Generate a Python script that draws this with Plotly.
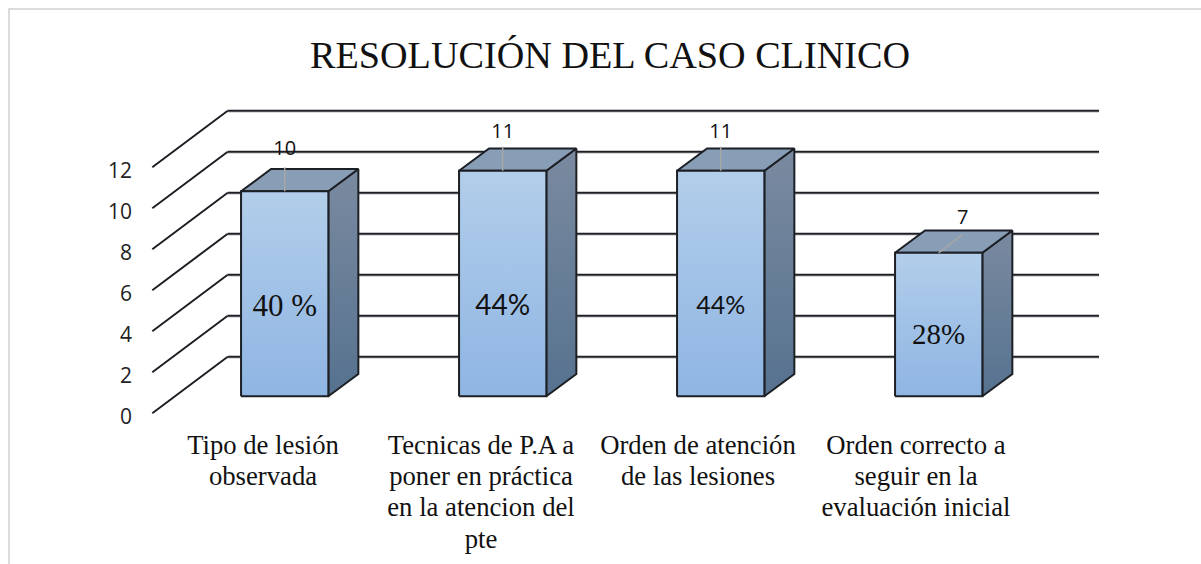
import plotly.graph_objects as go

# values
categories = ["Tipo de lesión observada",
              "Tecnicas de P.A a poner en práctica en la atencion del pte",
              "Orden de atención de las lesiones",
              "Orden correcto a seguir en la evaluación inicial"]
category_lines = [["Tipo de lesión", "observada"],
                  ["Tecnicas de P.A a", "poner en práctica", "en la atencion del", "pte"],
                  ["Orden de atención", "de las lesiones"],
                  ["Orden correcto a", "seguir en la", "evaluación inicial"]]
values = [10, 11, 11, 7]
percent_labels = ["40 %", "44%", "44%", "28%"]
y_ticks = [0, 2, 4, 6, 8, 10, 12]

# layout of the fake 3d box, px
W, H = 1201, 564
UNIT = 20.5           # px per value unit
BASE_PX = 396.3       # pixel row of value 0 on the bar fronts
X0_PX, STEP_PX = 284.7, 218
BAR_W = 87.3 / STEP_PX
DEPTH_X = 30 / STEP_PX
DEPTH_Y = 22.3 / UNIT
BACK_OFF = (BASE_PX - 356.7) / UNIT
TICK_PX = 417         # pixel row of the axis label 0
WALL_FRONT_X = (152.3 - X0_PX) / STEP_PX
WALL_BACK_X = (227.7 - X0_PX) / STEP_PX
GRID_END_X = (1099 - X0_PX) / STEP_PX
WALL_FRONT_Y2 = (TICK_PX - 413.3) / UNIT
WALL_BACK_Y2 = (TICK_PX - 356.7) / UNIT

label_dx = [0, 0, 0, 24 / STEP_PX]
label_dy = [2.0, 1.85, 1.85, 1.65]
leader_dy = [1.17, 1.17, 1.17, 0.9]
percent_y = [4.28, 4.33, 4.33, 2.9]
percent_fonts = ["Liberation Serif", "Lato", "Lato", "Liberation Serif"]
percent_sizes = [31, 28, 25, 29]
label_center_px = [263, 481, 698, 916]
line_px = [447, 478, 509, 541]

LINE = "#1c1f24"
SHADOW = "#c4c4c4"
SERIF = "Liberation Serif"

fig = go.Figure()


def poly(xs, ys, line_color=LINE, **kw):
    fig.add_trace(go.Scatter(x=xs, y=ys, mode="lines", fill="toself",
                             line=dict(color=line_color, width=2), hoverinfo="skip",
                             showlegend=False, **kw))


# back grid lines with the soft shadow under them
for v in y_ticks:
    fig.add_trace(go.Scatter(x=[WALL_BACK_X, GRID_END_X], y=[v + BACK_OFF - 0.07] * 2, mode="lines",
                             line=dict(color=SHADOW, width=1), hoverinfo="skip", showlegend=False))
    fig.add_trace(go.Scatter(x=[WALL_BACK_X, GRID_END_X], y=[v + BACK_OFF] * 2, mode="lines",
                             line=dict(color=LINE, width=2), hoverinfo="skip", showlegend=False))

# bars: front, side and top faces
for i, v in enumerate(values):
    left, right = i - BAR_W / 2, i + BAR_W / 2
    poly([right, right + DEPTH_X, right + DEPTH_X, right, right],
         [0, DEPTH_Y, v + DEPTH_Y, v, 0],
         fillgradient=dict(type="vertical", colorscale=[[0, "#56728F"], [1, "#7A8AA0"]]))
    poly([left, left + DEPTH_X, right + DEPTH_X, right, left],
         [v, v + DEPTH_Y, v + DEPTH_Y, v, v], fillcolor="#889DB6")
    poly([left, right, right, left, left], [0, 0, v, v, 0],
         fillgradient=dict(type="vertical", colorscale=[[0, "#8FB5E3"], [1, "#B2CEEA"]]))
    # leader line to the data label
    fig.add_trace(go.Scatter(x=[i, i + label_dx[i]], y=[v, v + leader_dy[i]], mode="lines",
                             line=dict(color="#a6a6a6", width=1.5), hoverinfo="skip", showlegend=False))

# data labels and percentages
fig.add_trace(go.Scatter(x=[i + d for i, d in enumerate(label_dx)],
                         y=[v + d for v, d in zip(values, label_dy)],
                         mode="text", text=[str(v) for v in values],
                         textfont=dict(family="Open Sans", size=20, color="#111111"),
                         hoverinfo="skip", showlegend=False))
fig.add_trace(go.Scatter(x=list(range(len(values))), y=percent_y, mode="text", text=percent_labels,
                         textfont=dict(family=percent_fonts, size=percent_sizes, color="#111111"),
                         hoverinfo="skip", showlegend=False))

# category labels, one point per wrapped line
for i, lines in enumerate(category_lines):
    fig.add_trace(go.Scatter(x=[(label_center_px[i] - X0_PX) / STEP_PX] * len(lines),
                             y=[(BASE_PX - line_px[k]) / UNIT for k in range(len(lines))],
                             mode="text", text=lines, name=categories[i],
                             textfont=dict(family=SERIF, size=26.7, color="#111111"),
                             hoverinfo="skip", showlegend=False))

# side wall lines, on the second axis that holds the tick labels
for v in y_ticks:
    fig.add_trace(go.Scatter(x=[WALL_FRONT_X, WALL_BACK_X], y=[v + WALL_FRONT_Y2, v + WALL_BACK_Y2], yaxis="y2",
                             mode="lines", line=dict(color=LINE, width=2),
                             hoverinfo="skip", showlegend=False))

fig.update_layout(
    width=W, height=H, margin=dict(l=0, r=0, t=0, b=0),
    paper_bgcolor="white", plot_bgcolor="white",
    title=dict(text="RESOLUCIÓN DEL CASO CLINICO", x=610 / W, xanchor="center", y=1 - 55 / H, yanchor="middle",
               font=dict(family=SERIF, size=38.2, color="#111111")),
    xaxis=dict(range=[-X0_PX / STEP_PX, (W - X0_PX) / STEP_PX], visible=False, fixedrange=True),
    yaxis=dict(range=[(BASE_PX - H) / UNIT, BASE_PX / UNIT], visible=False, fixedrange=True),
    yaxis2=dict(range=[(TICK_PX - H) / UNIT, TICK_PX / UNIT], overlaying="y", anchor="free", position=132 / W,
                tickvals=y_ticks, showgrid=False, zeroline=False, showline=False, ticks="",
                tickfont=dict(family="Open Sans", size=21, color="#222222"), fixedrange=True),
    shapes=[dict(type="rect", xref="paper", yref="paper", x0=9 / W, x1=1.02, y0=-0.02, y1=1 - 9 / H,
                 line=dict(color="#dcdcdc", width=2), fillcolor="rgba(0,0,0,0)", layer="below")],
)

fig.write_html("out.html", config=dict(displayModeBar=False),
               post_script="document.body.style.margin = '0';")
